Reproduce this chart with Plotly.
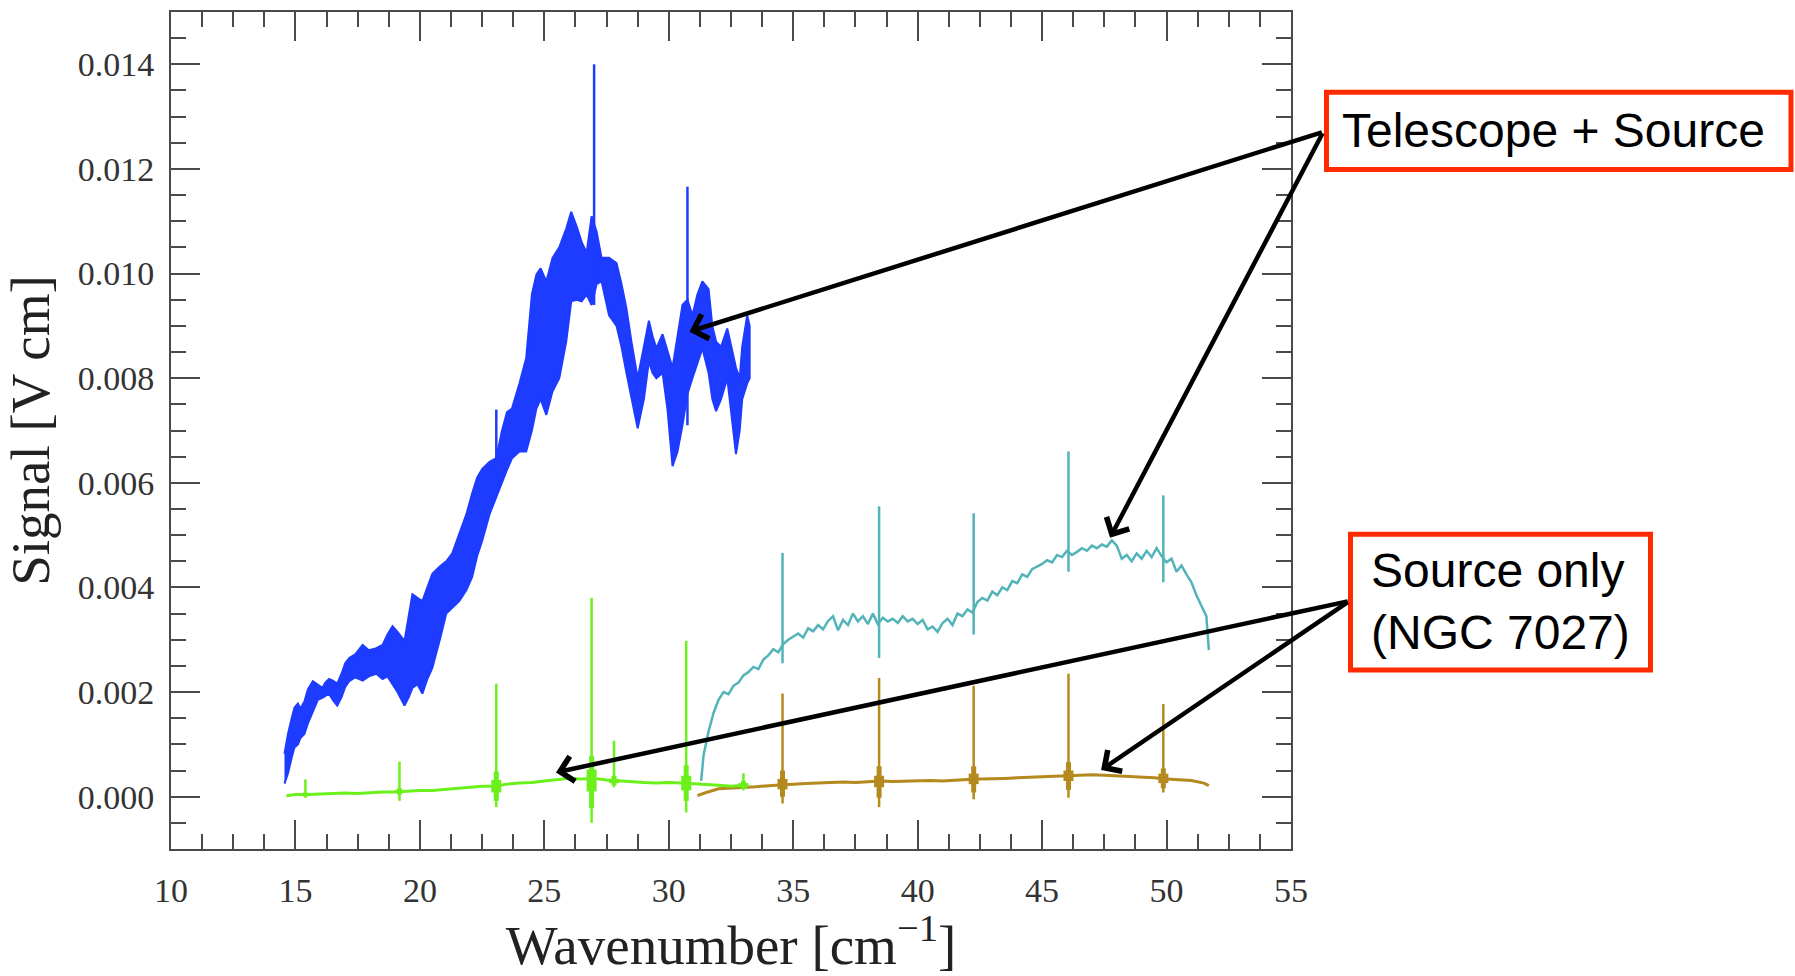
import plotly.graph_objects as go

# ---------------- data ----------------
# Blue: telescope + source, low band (drawn as noisy envelope)
blue_x = [14.56, 14.7, 14.85, 14.96, 15.1, 15.2, 15.36, 15.5, 15.7, 15.9, 16.08, 16.2, 16.35, 16.5, 16.68,
          16.85, 17.0, 17.16, 17.4, 17.7, 17.95, 18.25, 18.5, 18.7, 18.9, 19.1, 19.38, 19.55, 19.7, 19.9,
          20.1, 20.3, 20.5, 20.8, 21.06, 21.3, 21.58, 21.87, 22.1, 22.3, 22.5, 22.8, 23.07, 23.3, 23.5,
          23.7, 24.0, 24.27, 24.5, 24.68, 24.85, 25.08, 25.33, 25.6, 25.88, 26.08, 26.3, 26.5, 26.7, 26.9,
          27.1, 27.3, 27.6, 27.9, 28.1, 28.3, 28.5, 28.75, 29.0, 29.2, 29.35, 29.5, 29.75, 29.95, 30.15,
          30.35, 30.55, 30.75, 30.95, 31.15, 31.35, 31.6, 31.75, 31.9, 32.1, 32.35, 32.5, 32.7, 32.85,
          32.95, 33.15, 33.25]
blue_hi = [0.00082, 0.00120, 0.00150, 0.00170, 0.00178, 0.00168, 0.00182, 0.00205, 0.00221, 0.00215, 0.00208,
           0.00218, 0.00225, 0.00222, 0.00216, 0.00235, 0.00255, 0.00265, 0.00272, 0.00290, 0.00280, 0.00284,
           0.00290, 0.00310, 0.00326, 0.00315, 0.00298, 0.00345, 0.00387, 0.00380, 0.00374, 0.00400, 0.00426,
           0.00440, 0.00450, 0.00465, 0.00500, 0.00540, 0.00580, 0.00610, 0.00626, 0.00640, 0.00647, 0.00700,
           0.00735, 0.00742, 0.00790, 0.00838, 0.00960, 0.00998, 0.01010, 0.00985, 0.01030, 0.01050, 0.01086,
           0.01118, 0.01090, 0.01060, 0.01040, 0.01110, 0.01080, 0.01030, 0.01030, 0.01020, 0.00980, 0.00933,
           0.00870, 0.00800, 0.00860, 0.00910, 0.00880, 0.00857, 0.00884, 0.00850, 0.00820, 0.00880, 0.00940,
           0.00950, 0.00920, 0.00960, 0.00985, 0.00970, 0.00900, 0.00870, 0.00860, 0.00895, 0.00860, 0.00820,
           0.00800, 0.00860, 0.00920, 0.00900]
blue_lo = [0.00025, 0.00045, 0.00075, 0.00094, 0.00100, 0.00112, 0.00120, 0.00140, 0.00164, 0.00185, 0.00189,
           0.00192, 0.00197, 0.00185, 0.00174, 0.00190, 0.00210, 0.00221, 0.00228, 0.00222, 0.00230, 0.00235,
           0.00225, 0.00230, 0.00216, 0.00200, 0.00174, 0.00190, 0.00208, 0.00215, 0.00197, 0.00225, 0.00246,
           0.00300, 0.00350, 0.00360, 0.00374, 0.00395, 0.00420, 0.00460, 0.00489, 0.00540, 0.00570, 0.00600,
           0.00625, 0.00647, 0.00660, 0.00660, 0.00700, 0.00742, 0.00760, 0.00730, 0.00775, 0.00800, 0.00870,
           0.00947, 0.00950, 0.00947, 0.00960, 0.00940, 0.00980, 0.00985, 0.00920, 0.00900, 0.00860, 0.00810,
           0.00760, 0.00704, 0.00760, 0.00832, 0.00810, 0.00800, 0.00810, 0.00740, 0.00632, 0.00660, 0.00710,
           0.00770, 0.00800, 0.00830, 0.00857, 0.00810, 0.00760, 0.00737, 0.00760, 0.00800, 0.00740, 0.00655,
           0.00700, 0.00760, 0.00790, 0.00800]
blue_spike_x = [23.07, 27.0, 30.75]
blue_spike_top = [0.0074, 0.0140, 0.01166]
blue_spike_bot = [0.0062, 0.0094, 0.0071]

# Cyan: telescope + source, high band
cyan_x = [31.3, 31.4, 31.6, 31.8, 32.0, 32.2, 32.4, 32.6, 32.8, 33.0, 33.2, 33.4, 33.6, 33.8, 34.0, 34.2, 34.4,
          34.6, 34.8, 35.0, 35.2, 35.4, 35.6, 35.8, 36.0, 36.2, 36.4, 36.6, 36.8, 37.0, 37.2, 37.4, 37.6, 37.8,
          38.0, 38.2, 38.4, 38.6, 38.8, 39.0, 39.2, 39.4, 39.6, 39.8, 40.0, 40.2, 40.4, 40.6, 40.8, 41.0, 41.2,
          41.4, 41.6, 41.8, 42.0, 42.2, 42.4, 42.6, 42.8, 43.0, 43.2, 43.4, 43.6, 43.8, 44.0, 44.2, 44.4, 44.6,
          44.8, 45.0, 45.2, 45.4, 45.6, 45.8, 46.0, 46.2, 46.4, 46.6, 46.8, 47.0, 47.2, 47.4, 47.6, 47.8, 48.0,
          48.2, 48.4, 48.6, 48.8, 49.0, 49.2, 49.4, 49.6, 49.8, 50.0, 50.2, 50.4, 50.6, 50.8, 51.0, 51.2, 51.4,
          51.6, 51.7]
cyan_y = [0.00030, 0.00080, 0.00125, 0.00160, 0.00185, 0.00200, 0.00196, 0.00212, 0.00218, 0.00232, 0.00238,
          0.00248, 0.00244, 0.00262, 0.00270, 0.00282, 0.00276, 0.00292, 0.00300, 0.00306, 0.00312, 0.00304,
          0.00322, 0.00316, 0.00328, 0.00320, 0.00336, 0.00345, 0.00318, 0.00338, 0.00328, 0.00350, 0.00335,
          0.00345, 0.00330, 0.00350, 0.00330, 0.00342, 0.00335, 0.00340, 0.00332, 0.00345, 0.00335, 0.00340,
          0.00330, 0.00338, 0.00320, 0.00325, 0.00315, 0.00332, 0.00340, 0.00328, 0.00350, 0.00345, 0.00358,
          0.00352, 0.00372, 0.00380, 0.00375, 0.00392, 0.00385, 0.00400, 0.00395, 0.00412, 0.00408, 0.00425,
          0.00420, 0.00435, 0.00440, 0.00445, 0.00452, 0.00448, 0.00462, 0.00458, 0.00470, 0.00462, 0.00468,
          0.00475, 0.00470, 0.00480, 0.00475, 0.00482, 0.00478, 0.00490, 0.00480, 0.00455, 0.00462, 0.00450,
          0.00465, 0.00455, 0.00470, 0.00458, 0.00475, 0.00460, 0.00448, 0.00455, 0.00430, 0.00442, 0.00425,
          0.00410, 0.00385, 0.00365, 0.00345, 0.00280]
cyan_spike_x = [34.57, 38.45, 42.25, 46.06, 49.87]
cyan_spike_top = [0.00466, 0.00555, 0.00542, 0.00660, 0.00576]
cyan_spike_bot = [0.00255, 0.00265, 0.00310, 0.00430, 0.00410]

# Green: source only, low band
green_x = [14.64, 15.0, 15.5, 16.0, 16.5, 17.0, 17.5, 18.0, 18.5, 19.0, 19.5, 20.0, 20.5, 21.0, 21.5, 22.0,
           22.5, 23.0, 23.5, 24.0, 24.5, 25.0, 25.5, 26.0, 26.5, 27.0, 27.5, 28.0, 28.5, 29.0, 29.5, 30.0,
           30.5, 31.0, 31.5, 32.0, 32.5, 33.0, 33.1]
green_y = [0.00002, 0.00004, 0.00004, 0.00005, 0.00006, 0.00007, 0.00006, 0.00008, 0.00009, 0.00009, 0.00011,
           0.00012, 0.00012, 0.00014, 0.00016, 0.00018, 0.00020, 0.00020, 0.00024, 0.00026, 0.00027, 0.00030,
           0.00032, 0.00035, 0.00034, 0.00035, 0.00032, 0.00030, 0.00028, 0.00027, 0.00026, 0.00027, 0.00026,
           0.00025, 0.00024, 0.00022, 0.00020, 0.00022, 0.00020]
green_spike_x = [15.4, 19.18, 23.07, 26.9, 27.8, 30.7, 33.0]
green_spike_top = [0.00033, 0.00067, 0.00216, 0.00380, 0.00107, 0.00298, 0.00045]
green_spike_bot = [-0.00002, -0.00008, -0.00020, -0.00050, 0.00018, -0.00030, 0.00012]
green_burst_hi = [0.00008, 0.00016, 0.00048, 0.00078, 0.00040, 0.00060, 0.00030]
green_burst_lo = [0.00000, 0.00004, -0.00008, -0.00022, 0.00022, -0.00008, 0.00015]
green_core_hi = [0.00006, 0.00013, 0.00032, 0.00052, 0.00034, 0.00040, 0.00026]
green_core_lo = [0.00002, 0.00007, 0.00008, 0.00010, 0.00026, 0.00012, 0.00018]

# Brown: source only, high band
brown_x = [31.15, 31.5, 32.0, 32.5, 33.0, 33.5, 34.0, 34.5, 35.0, 35.5, 36.0, 36.5, 37.0, 37.5, 38.0, 38.5,
           39.0, 39.5, 40.0, 40.5, 41.0, 41.5, 42.0, 42.5, 43.0, 43.5, 44.0, 44.5, 45.0, 45.5, 46.0, 46.5,
           47.0, 47.5, 48.0, 48.5, 49.0, 49.5, 50.0, 50.5, 51.0, 51.5, 51.7]
brown_y = [0.00002, 0.00008, 0.00015, 0.00016, 0.00017, 0.00019, 0.00021, 0.00023, 0.00024, 0.00025, 0.00026,
           0.00027, 0.00028, 0.00027, 0.00029, 0.00030, 0.00029, 0.00030, 0.00030, 0.00031, 0.00030, 0.00032,
           0.00033, 0.00034, 0.00034, 0.00035, 0.00036, 0.00037, 0.00038, 0.00039, 0.00040, 0.00041, 0.00042,
           0.00041, 0.00040, 0.00038, 0.00037, 0.00036, 0.00034, 0.00033, 0.00031, 0.00026, 0.00021]
brown_spike_x = [34.57, 38.45, 42.25, 46.06, 49.87]
brown_spike_top = [0.00197, 0.00227, 0.00212, 0.00235, 0.00177]
brown_spike_bot = [-0.00013, -0.00020, -0.00005, -0.00002, 0.00008]
brown_burst_hi = [0.00050, 0.00058, 0.00058, 0.00066, 0.00054]
brown_burst_lo = [0.00000, -0.00002, 0.00008, 0.00013, 0.00016]
brown_core_hi = [0.00034, 0.00040, 0.00044, 0.00050, 0.00044]
brown_core_lo = [0.00014, 0.00018, 0.00024, 0.00030, 0.00026]

# Annotation arrows: tips (data) and tails (data, outside the x range)
tele_tail = (56.30, 0.01271)
tele_tips_x = [30.83, 47.73]
tele_tips_y = [0.00889, 0.00495]
src_tail = (57.34, 0.00374)
src_tips_x = [25.47, 47.37]
src_tips_y = [0.000464, 0.00051]

x_ticks = [10, 15, 20, 25, 30, 35, 40, 45, 50, 55]
y_ticks = [0.000, 0.002, 0.004, 0.006, 0.008, 0.010, 0.012, 0.014]

# ---------------- styling ----------------
BLUE = '#1e3cff'
CYAN = '#52b4b8'
GREEN = '#6cf01c'
BROWN = '#b4891e'
AX = '#4a4a4a'
RED = '#ff2a00'

W, H = 1795, 976
ML, MR, MT, MB = 171, 504, 10, 127
PW, PH = W - ML - MR, H - MT - MB


def px(X):
    return (X - ML) / PW


def py(Y):
    return (H - MB - Y) / PH


def segs(xs, lo, hi):
    sx, sy = [], []
    for a, b, c in zip(xs, lo, hi):
        sx += [a, a, None]
        sy += [b, c, None]
    return sx, sy


def add_segs(fig, xs, lo, hi, color, width):
    sx, sy = segs(xs, lo, hi)
    fig.add_trace(go.Scatter(x=sx, y=sy, mode='lines', line=dict(color=color, width=width),
                             hoverinfo='skip', showlegend=False))


fig = go.Figure()

# blue band
fig.add_trace(go.Scatter(x=blue_x + blue_x[::-1], y=blue_hi + blue_lo[::-1], mode='lines',
                         fill='toself', fillcolor=BLUE, line=dict(color=BLUE, width=2),
                         hoverinfo='skip', showlegend=False))
add_segs(fig, blue_spike_x, blue_spike_bot, blue_spike_top, BLUE, 2.5)

# cyan
fig.add_trace(go.Scatter(x=cyan_x, y=cyan_y, mode='lines', line=dict(color=CYAN, width=2.5),
                         showlegend=False))
add_segs(fig, cyan_spike_x, cyan_spike_bot, cyan_spike_top, CYAN, 2.5)

# brown
fig.add_trace(go.Scatter(x=brown_x, y=brown_y, mode='lines', line=dict(color=BROWN, width=3),
                         showlegend=False))
add_segs(fig, brown_spike_x, brown_spike_bot, brown_spike_top, BROWN, 2.5)
add_segs(fig, brown_spike_x, brown_burst_lo, brown_burst_hi, BROWN, 5)
add_segs(fig, brown_spike_x, brown_core_lo, brown_core_hi, BROWN, 10)

# green
fig.add_trace(go.Scatter(x=green_x, y=green_y, mode='lines', line=dict(color=GREEN, width=3),
                         showlegend=False))
add_segs(fig, green_spike_x, green_spike_bot, green_spike_top, GREEN, 2.5)
add_segs(fig, green_spike_x, green_burst_lo, green_burst_hi, GREEN, 5)
add_segs(fig, green_spike_x, green_core_lo, green_core_hi, GREEN, 10)

axis_common = dict(
    ticks='inside', ticklen=29, tickwidth=2, tickcolor=AX,
    showline=True, linecolor=AX, linewidth=2, mirror='allticks',
    showgrid=False, zeroline=False,
    tickfont=dict(family='Liberation Serif', size=34, color='#333'),
)

fig.update_layout(
    width=W, height=H,
    margin=dict(l=ML, r=MR, t=MT, b=MB, pad=0),
    paper_bgcolor='white', plot_bgcolor='white',
    xaxis=dict(range=[10, 55], tickvals=x_ticks, ticktext=[str(v) for v in x_ticks],
               minor=dict(ticks='inside', ticklen=15, tickwidth=2, tickcolor=AX, dtick=1.25, tick0=10,
                          showgrid=False),
               title=dict(text='Wavenumber [cm<sup>\u2212</sup><sup>1</sup>]',
                          font=dict(family='Liberation Serif', size=55, color='#222'), standoff=14),
               ticklabelstandoff=10,
               **axis_common),
    yaxis=dict(range=[-0.001, 0.015], tickvals=y_ticks, ticktext=['%.3f' % v for v in y_ticks],
               minor=dict(ticks='inside', ticklen=15, tickwidth=2, tickcolor=AX, dtick=0.0005, tick0=0,
                          showgrid=False),
               title=dict(text='Signal [V cm]',
                          font=dict(family='Liberation Serif', size=55, color='#222'), standoff=12),
               ticklabelstandoff=8,
               **axis_common),
)

# red label boxes
fig.add_shape(type='rect', xref='paper', yref='paper', x0=px(1326.5), x1=px(1791), y0=py(168), y1=py(90.5),
              line=dict(color=RED, width=5), fillcolor='white', layer='above')
fig.add_shape(type='rect', xref='paper', yref='paper', x0=px(1350.5), x1=px(1650.5), y0=py(669.5), y1=py(533.5),
              line=dict(color=RED, width=5), fillcolor='white', layer='above')

fig.add_annotation(xref='paper', yref='paper', x=px(1340), y=py(129), xanchor='left', yanchor='middle',
                   text='Telescope + Source', showarrow=False,
                   font=dict(family='Liberation Sans', size=48, color='black'))
fig.add_annotation(xref='paper', yref='paper', x=px(1369), y=py(601), xanchor='left', yanchor='middle',
                   text='Source only<br>(NGC 7027)', showarrow=False, align='left',
                   font=dict(family='Liberation Sans', size=48, color='black'))

# arrows
for tx, ty in zip(tele_tips_x, tele_tips_y):
    fig.add_annotation(x=tx, y=ty, xref='x', yref='y', ax=tele_tail[0], ay=tele_tail[1], axref='x', ayref='y',
                       text='', showarrow=True, arrowhead=4, arrowsize=1.1, arrowwidth=4.5, arrowcolor='black',
                       standoff=0, startstandoff=0)
for tx, ty in zip(src_tips_x, src_tips_y):
    fig.add_annotation(x=tx, y=ty, xref='x', yref='y', ax=src_tail[0], ay=src_tail[1], axref='x', ayref='y',
                       text='', showarrow=True, arrowhead=4, arrowsize=1.1, arrowwidth=4.5, arrowcolor='black',
                       standoff=0, startstandoff=0)

fig.write_html('out.html')
